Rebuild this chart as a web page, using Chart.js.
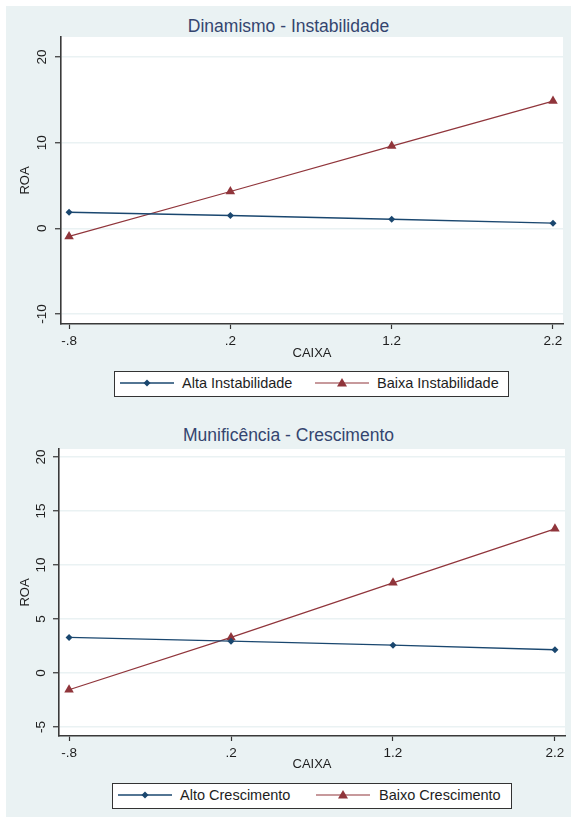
<!DOCTYPE html>
<html lang="pt">
<head>
<meta charset="UTF-8">
<title>ROA x CAIXA</title>
<script src="https://cdn.jsdelivr.net/npm/chart.js@4.4.0/dist/chart.umd.min.js"></script>
<style>
  body { margin: 0; background: #fff; font-family: "Liberation Sans", Arial, sans-serif; }
  #panel { position: absolute; left: 6px; top: 6px; width: 565px; height: 811px; background: #eaf2f3; }
  canvas { position: absolute; left: 6px; }
  .title { position: absolute; left: 6px; width: 565px; text-align: center; font-size: 17.5px; line-height: 20px; color: #34456f; }
  .legend { position: absolute; box-sizing: border-box; height: 26px; background: #fff; border: 1.5px solid #333; font-size: 14.5px; color: #1e1e1e; }
  .legend svg, .legend span { position: absolute; }
  .legend svg { top: 5px; }
  .legend span { top: 2.5px; line-height: 17px; white-space: nowrap; }
</style>
</head>
<body>
<div id="panel"></div>
<div class="title" style="top:16px">Dinamismo - Instabilidade</div>
<canvas id="top" width="565" height="400" style="top:6px"></canvas>
<div class="legend" style="left:114px; top:371px; width:395px">
  <svg style="left:5px" width="54" height="12"><line x1="0" y1="6" x2="54" y2="6" stroke="#1a476f" stroke-width="1.4"/><polygon points="27,2.5 30.5,6 27,9.5 23.5,6" fill="#1a476f"/></svg>
  <span style="left:67px">Alta Instabilidade</span>
  <svg style="left:200px" width="54" height="12"><line x1="0" y1="6" x2="54" y2="6" stroke="#90353b" stroke-width="1.2"/><polygon points="27,1 32,9.5 22,9.5" fill="#90353b"/></svg>
  <span style="left:262px">Baixa Instabilidade</span>
</div>

<div class="title" style="top:425px">Munificência - Crescimento</div>
<canvas id="bottom" width="565" height="411" style="top:406px"></canvas>
<div class="legend" style="left:112px; top:783px; width:400px">
  <svg style="left:5px" width="54" height="12"><line x1="0" y1="6" x2="54" y2="6" stroke="#1a476f" stroke-width="1.4"/><polygon points="27,2.5 30.5,6 27,9.5 23.5,6" fill="#1a476f"/></svg>
  <span style="left:67px">Alto Crescimento</span>
  <svg style="left:203px" width="54" height="12"><line x1="0" y1="6" x2="54" y2="6" stroke="#90353b" stroke-width="1.2"/><polygon points="27,1 32,9.5 22,9.5" fill="#90353b"/></svg>
  <span style="left:266px">Baixo Crescimento</span>
</div>

<script>
  // values
  const caixa = [-0.8, 0.2, 1.2, 2.2];
  const xTicks = [-0.8, 0.2, 1.2, 2.2];

  const altaInstabilidade = [1.87, 1.5, 1.05, 0.6];
  const baixaInstabilidade = [-0.95, 4.3, 9.6, 14.85];
  const yTicksTop = [-10, 0, 10, 20];

  const altoCrescimento = [3.3, 2.95, 2.58, 2.15];
  const baixoCrescimento = [-1.55, 3.3, 8.35, 13.35];
  const yTicksBottom = [-5, 0, 5, 10, 15, 20];

  const FONT = '"Liberation Sans", Arial, sans-serif';
  const NAVY = '#1a476f';
  const MAROON = '#90353b';

  // Stata style labels: -.8, .2, 1.2
  function fmt(v) {
    return String(v).replace(/^(-?)0\./, '$1.');
  }

  const plotBg = {
    id: 'plotBg',
    beforeDraw(chart) {
      const { ctx, chartArea: a } = chart;
      ctx.save();
      ctx.fillStyle = '#fff';
      ctx.fillRect(a.left, a.top, a.right - a.left, a.bottom - a.top);
      ctx.restore();
    }
  };

  function points(ys) {
    return caixa.map((x, i) => ({ x: x, y: ys[i] }));
  }

  function makeChart(id, cfg) {
    new Chart(document.getElementById(id), {
      type: 'scatter',
      data: {
        datasets: [{
          label: cfg.names[0],
          data: points(cfg.a),
          showLine: true,
          borderColor: NAVY,
          backgroundColor: NAVY,
          borderWidth: 1.4,
          pointStyle: 'rectRot',
          pointRadius: 3.5,
          pointBorderWidth: 0
        }, {
          label: cfg.names[1],
          data: points(cfg.b),
          showLine: true,
          borderColor: MAROON,
          backgroundColor: MAROON,
          borderWidth: 1.2,
          pointStyle: 'triangle',
          pointRadius: 5.5,
          pointBorderWidth: 0
        }]
      },
      options: {
        responsive: false,
        animation: false,
        devicePixelRatio: 1,
        layout: { padding: { top: cfg.area.top, right: 565 - cfg.area.right, left: 0, bottom: 0 } },
        plugins: { legend: { display: false }, tooltip: { enabled: false } },
        scales: {
          x: {
            type: 'linear',
            min: cfg.xMin, max: cfg.xMax,
            afterBuildTicks: s => { s.ticks = xTicks.map(v => ({ value: v })); },
            afterFit: s => { s.height = cfg.h - cfg.area.bottom; },
            grid: { drawOnChartArea: false, drawTicks: true, tickLength: 5, tickColor: '#333', tickWidth: 1.2 },
            border: { color: '#3a3a3a', width: 1.6 },
            ticks: { autoSkip: false, maxRotation: 0, padding: 4, color: '#1e1e1e', font: { family: FONT, size: 13.5 }, callback: v => fmt(v) },
            title: { display: true, text: 'CAIXA', color: '#1e1e1e', font: { family: FONT, size: 13 }, padding: { top: 0, bottom: 45 } }
          },
          y: {
            min: cfg.yMin, max: cfg.yMax,
            afterBuildTicks: s => { s.ticks = cfg.yTicks.map(v => ({ value: v })); },
            afterFit: s => { s.width = cfg.area.left; },
            grid: { color: '#eaf2f3', lineWidth: 1.5, drawTicks: true, tickLength: 6, tickColor: '#333', tickWidth: 1.2 },
            border: { color: '#3a3a3a', width: 1.6 },
            ticks: { autoSkip: false, minRotation: 90, maxRotation: 90, crossAlign: 'center', padding: cfg.yPad, color: '#1e1e1e', font: { family: FONT, size: 13.5 }, callback: v => fmt(v) },
            title: { display: true, text: 'ROA', color: '#1e1e1e', font: { family: FONT, size: 13 }, padding: { top: 12, bottom: 0 } }
          }
        }
      },
      plugins: [plotBg]
    });
  }

  makeChart('top', {
    names: ['Alta Instabilidade', 'Baixa Instabilidade'],
    a: altaInstabilidade, b: baixaInstabilidade,
    yTicks: yTicksTop, yMin: -11.17, yMax: 22.33,
    xMin: -0.85, xMax: 2.262,
    area: { left: 55, right: 557, top: 31, bottom: 318 }, h: 400, yPad: 3
  });

  makeChart('bottom', {
    names: ['Alto Crescimento', 'Baixo Crescimento'],
    a: altoCrescimento, b: baixoCrescimento,
    yTicks: yTicksBottom, yMin: -5.83, yMax: 20.74,
    xMin: -0.862, xMax: 2.262,
    area: { left: 53, right: 559, top: 43, bottom: 330 }, h: 411, yPad: 4
  });
</script>
</body>
</html>
